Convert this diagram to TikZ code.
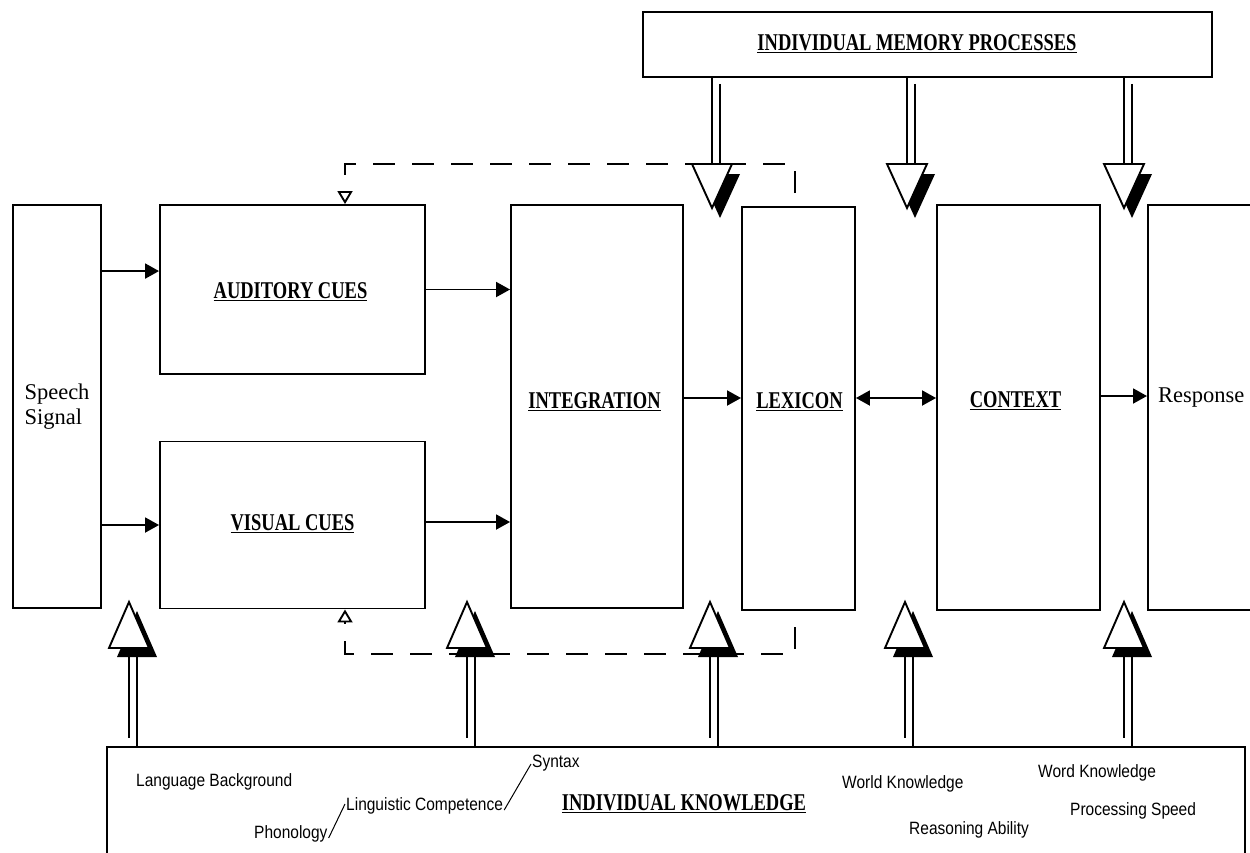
\documentclass[tikz,border=0pt]{standalone}
\usepackage{fontspec}
\usepackage{graphicx}
\setmainfont{Liberation Serif}
\newfontfamily\arialfont{Liberation Sans}
\usetikzlibrary{arrows.meta,calc}
\newcommand\blab[1]{\scalebox{1}[1.3]{\underline{#1}}}
\newcommand\ktext[1]{\scalebox{1}[1.15]{#1}}
\newcommand\memarrow[1]{%
  \draw[shaft] (#1 |- mem.south) -- ($(#1)+(0,-44)$);
  \draw[shaft] ($(#1 |- mem.south)+(8,6)$) -- ($(#1)+(8,-44)$);
  \fill[black] ($(#1)+(8,10)$) -- ++(20,-44) -- ++(-40,0) -- cycle;
  \filldraw[tri] (#1) -- ++(20,-44) -- ++(-40,0) -- cycle;
}
\newcommand\knowarrow[1]{%
  \draw[shaft] ($(#1)+(0,55)$) -- ($(#1)+(0,136)$);
  \draw[shaft] ($(#1)+(8,55)$) -- ($(#1 |- know.north)+(8,0)$);
  \fill[black] ($(#1)+(8,9)$) -- ++(20,46) -- ++(-40,0) -- cycle;
  \filldraw[tri] (#1) -- ++(20,46) -- ++(-40,0) -- cycle;
}
\begin{document}
\begin{tikzpicture}[x=1pt,y=-1pt,
  box/.style={draw, line width=1.9pt, inner sep=0pt, rectangle},
  lbl/.style={font=\fontsize{18.5}{22}\selectfont\bfseries, inner sep=0pt, anchor=base},
  sig/.style={font=\fontsize{22.5}{25}\selectfont},
  kn/.style={font=\arialfont\fontsize{15.5}{18}\selectfont, inner sep=0pt, anchor=base west},
  arr/.style={line width=1.9pt, -{Triangle[width=15pt,length=14pt]}},
  darr/.style={line width=1.9pt, {Triangle[width=15pt,length=14pt]}-{Triangle[width=15pt,length=14pt]}},
  fb/.style={line width=1.9pt, dash pattern=on 22pt off 17pt, -{Triangle[open,width=15pt,length=13pt]}},
  shaft/.style={line width=1.9pt},
  tri/.style={fill=white, draw=black, line width=1.9pt, line join=miter},
  thin/.style={line width=1pt}
]
\useasboundingbox (0,0) rectangle (1250,852);
\clip (0,0) rectangle (1250,852);

% boxes
\node[box, sig, align=left, minimum width=88pt, minimum height=403pt] (speech) at (57,406.5) {Speech\\Signal};
\node[box, minimum width=265pt, minimum height=169pt] (aud) at (292.5,289.5) {};
\node[box, minimum width=265pt, minimum height=167pt] (vis) at (292.5,525) {};
\node[box, minimum width=172pt, minimum height=403pt] (integ) at (597,406.5) {};
\node[box, minimum width=113pt, minimum height=403pt] (lex) at (798.5,408.5) {};
\node[box, minimum width=163pt, minimum height=405pt] (ctx) at (1018.5,407.5) {};
\node[box, anchor=west, minimum width=160pt, minimum height=405pt] (resp) at (1147,407.5) {};
\node[box, minimum width=569pt, minimum height=65pt] (mem) at (927.5,44.5) {};
\node[box, minimum width=1138pt, minimum height=170pt] (know) at (676,832) {};

% labels
\node[lbl] (laud) at (290.5,298) {\blab{AUDITORY CUES}};
\node[lbl] (lvis) at (292.5,530) {\blab{VISUAL CUES}};
\node[lbl] (linteg) at (594.5,408) {\blab{INTEGRATION}};
\node[lbl] (llex) at (799.5,408) {\blab{LEXICON}};
\node[lbl] (lctx) at (1015.5,407) {\blab{CONTEXT}};
\node[sig, inner sep=0pt, anchor=base west] (lresp) at (1158,402) {Response};
\node[lbl] (lmem) at (917,50) {\blab{INDIVIDUAL MEMORY PROCESSES}};
\node[lbl] (lknow) at (684,810) {\blab{INDIVIDUAL KNOWLEDGE}};

% knowledge items
\node[kn] (lang) at (136,786) {\ktext{Language Background}};
\node[kn] (syn) at (532,767) {\ktext{Syntax}};
\node[kn] (ling) at (346,810) {\ktext{Linguistic Competence}};
\node[kn] (phon) at (254,838) {\ktext{Phonology}};
\node[kn] (world) at (842,788) {\ktext{World Knowledge}};
\node[kn] (word) at (1038,777) {\ktext{Word Knowledge}};
\node[kn] (reas) at (909,834) {\ktext{Reasoning Ability}};
\node[kn] (proc) at (1070,815) {\ktext{Processing Speed}};
\draw[thin] ($(phon.base east)+(1,0)$) -- ($(ling.base west)+(-1,-6)$);
\draw[thin] ($(ling.base east)+(1,0)$) -- ($(syn.base west)+(-1,-3)$);

% main connectors
\coordinate (row) at (0,398);
\coordinate (rrow) at (0,396);
\draw[arr] ([yshift=-67pt]speech.north east) -- ([yshift=-67pt]aud.north west);
\draw[arr] (speech.east |- vis.west) -- (vis.west);
\draw[arr] (aud.east) -- (integ.west |- aud.east);
\draw[arr] ([yshift=3pt]vis.east) -- ([yshift=3pt]integ.west |- vis.east);
\draw[arr] (integ.east |- row) -- (lex.west |- row);
\draw[darr] (lex.east |- row) -- (ctx.west |- row);
\draw[arr] (ctx.east |- rrow) -- (resp.west |- rrow);

% feedback dashed loops
\coordinate (fbA) at (795,193);
\coordinate (fbB) at (795,627);
\draw[fb] (fbA) |- ([xshift=52.5pt,yshift=40pt]aud.north) -- ([xshift=52.5pt]aud.north);
\draw[fb] (fbB) |- ([xshift=52.5pt,yshift=-44.5pt]vis.south) -- ([xshift=52.5pt]vis.south);

% memory arrows
\coordinate (m1) at (712,208);
\coordinate (m2) at (907,208);
\coordinate (m3) at (1124,208);
\memarrow{m1}
\memarrow{m2}
\memarrow{m3}

% knowledge arrows
\coordinate (k1) at (129,602);
\coordinate (k2) at (467,602);
\coordinate (k3) at (710,602);
\coordinate (k4) at (905,602);
\coordinate (k5) at (1124,602);
\knowarrow{k1}
\knowarrow{k2}
\knowarrow{k3}
\knowarrow{k4}
\knowarrow{k5}
\end{tikzpicture}
\end{document}
